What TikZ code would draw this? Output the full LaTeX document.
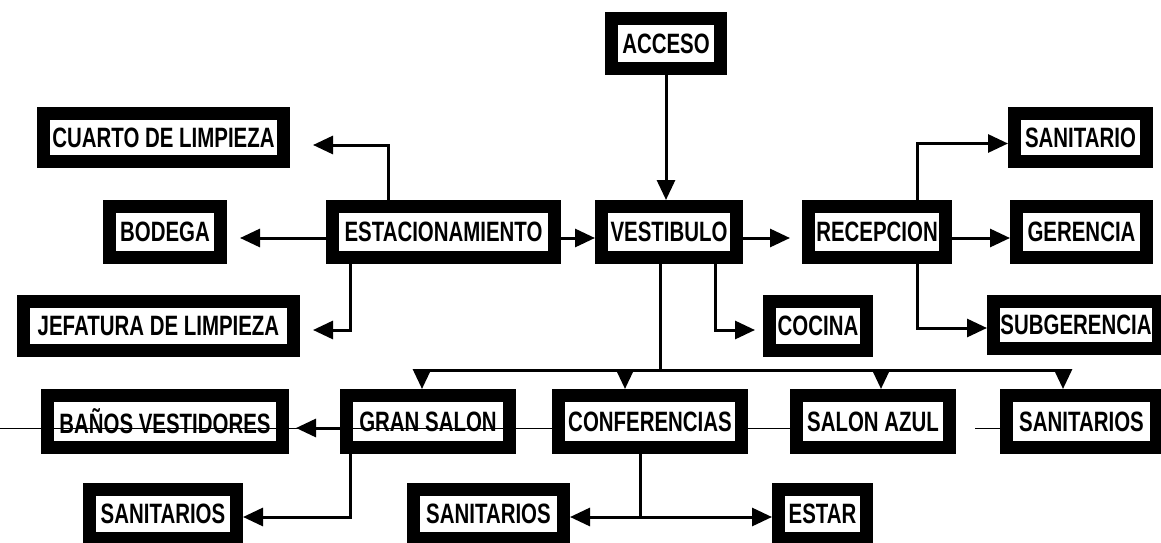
\documentclass[tikz,border=0pt]{standalone}
\usepackage{fontspec}
\setmainfont[FakeStretch=0.73]{Liberation Sans}
\usetikzlibrary{arrows.meta}
\tikzset{
  box/.style={draw=black, line width=13pt, fill=white, inner sep=0pt,
    font=\fontsize{28}{30}\selectfont\bfseries},
  arr/.style={line width=3pt, -{Triangle[length=20pt,width=18pt]}},
  conn/.style={line width=3pt},
  hair/.style={line width=1pt}
}
\begin{document}
\begin{tikzpicture}[x=1pt,y=-1pt]
\useasboundingbox (0,0) rectangle (1161,543);
% row 0
\node[box, minimum width=109, minimum height=50] (acceso) at (666,43.5) {ACCESO};
% row 1
\node[box, minimum width=240, minimum height=48] (cuarto) at (163.5,137.5) {CUARTO DE LIMPIEZA};
\node[box, minimum width=132, minimum height=48] (sanit1) at (1080.5,137.5) {SANITARIO};
% row 2
\node[box, minimum width=111, minimum height=51] (bodega) at (165,232) {BODEGA};
\node[box, minimum width=222, minimum height=51] (estac) at (443.5,232) {ESTACIONAMIENTO};
\node[box, minimum width=135, minimum height=51] (vest) at (669,232) {VESTIBULO};
\node[box, minimum width=137, minimum height=51] (recep) at (877,232) {RECEPCION};
\node[box, minimum width=130, minimum height=51] (gerencia) at (1081.5,232) {GERENCIA};
% row 3
\node[box, minimum width=270, minimum height=49] (jefatura) at (158.5,326) {JEFATURA DE LIMPIEZA};
\node[box, minimum width=97, minimum height=49] (cocina) at (818,326) {COCINA};
\node[box, minimum width=165, minimum height=47] (subger) at (1076,325) {SUBGERENCIA};
% row 4
\node[box, minimum width=235, minimum height=52] (banos) at (165,421.5) {BAÑOS VESTIDORES};
\node[box, minimum width=163, minimum height=52] (gran) at (428,421.5) {GRAN SALON};
\node[box, minimum width=183, minimum height=52] (conf) at (650,421.5) {CONFERENCIAS};
\node[box, minimum width=153, minimum height=52] (azul) at (873,421.5) {SALON AZUL};
\node[box, minimum width=150, minimum height=52] (sanit4) at (1081.5,421.5) {SANITARIOS};
% row 5
\node[box, minimum width=147, minimum height=49] (sanitA) at (163,514) {SANITARIOS};
\node[box, minimum width=150, minimum height=49] (sanitB) at (488.5,514) {SANITARIOS};
\node[box, minimum width=88, minimum height=49] (estar) at (822.5,514) {ESTAR};
% coordinates
\coordinate (tc) at (313,145);
\coordinate (tb) at (240,238);
\coordinate (tj) at (313,330);
\coordinate (tr) at (790,238);
\coordinate (tk) at (755,330);
\coordinate (tbn) at (296,428);
\coordinate (bv) at (660,370);
\coordinate (b1) at (422,370);
\coordinate (b2) at (625,370);
\coordinate (b3) at (881,370);
\coordinate (b4) at (1063,370);
\coordinate (tl) at (0,428);
\coordinate (ts) at (975,428);
% connectors
\draw[arr] (acceso.south) -- (acceso.south |- vest.north);
\draw[arr] (estac.north) ++(-55,0) |- (tc);
\draw[arr] ([yshift=-6pt]estac.west) -- (tb);
\draw[arr] (estac.south) ++(-93,0) |- (tj);
\draw[arr] ([yshift=-6pt]estac.east) -- ([yshift=-6pt]vest.west);
\draw[arr] ([yshift=-6pt]vest.east) -- (tr);
\draw[conn] (vest.south -| bv) -- (bv);
\draw[arr] (vest.south) ++(46,0) |- (tk);
\draw[conn] (b1) -- (b4);
\draw[arr] (b1) -- (b1 |- gran.north);
\draw[arr] (b2) -- (b2 |- conf.north);
\draw[arr] (b3) -- (b3 |- azul.north);
\draw[arr] (b4) -- (b4 |- sanit4.north);
\draw[arr] (recep.north) ++(40,0) |- ([yshift=-6pt]sanit1.west);
\draw[arr] ([yshift=-6pt]recep.east) -- ([yshift=-6pt]gerencia.west);
\draw[arr] (recep.south) ++(40,0) |- ([yshift=-3pt]subger.west);
\draw[arr] ([yshift=-6.5pt]gran.west) -- (tbn);
\draw[arr] (gran.south) ++(-78,0) |- ([yshift=-3pt]sanitA.east);
\draw[arr] (conf.south) ++(-10,0) |- ([yshift=-3pt]sanitB.east);
\draw[arr] (conf.south) ++(-10,0) |- ([yshift=-3pt]estar.west);
% thin line
\draw[hair] (tl) -- ([yshift=-6.5pt]conf.west);
\draw[hair] ([yshift=-6.5pt]conf.east) -- ([yshift=-6.5pt]azul.west);
\draw[hair] (ts) -- ([yshift=-6.5pt]sanit4.west);
\end{tikzpicture}
\end{document}
